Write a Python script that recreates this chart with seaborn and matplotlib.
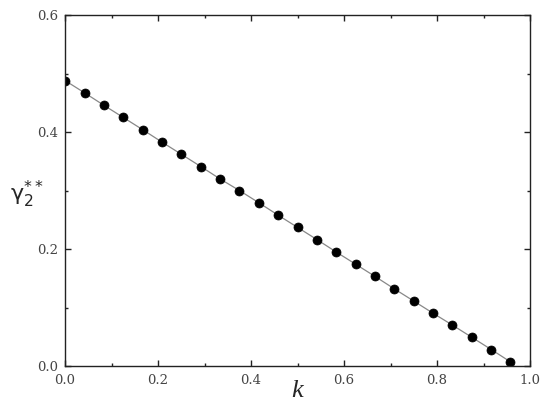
import matplotlib
matplotlib.use("Agg")
import matplotlib.pyplot as plt
import seaborn as sns
import pandas as pd
from matplotlib.ticker import MultipleLocator

k_vals = [0.0, 0.042, 0.083, 0.125, 0.167, 0.208, 0.25, 0.292, 0.333, 0.375,
          0.417, 0.458, 0.5, 0.542, 0.583, 0.625, 0.667, 0.708, 0.75, 0.792,
          0.833, 0.875, 0.917, 0.958]
gamma_vals = [0.488, 0.467, 0.446, 0.425, 0.404, 0.383, 0.362, 0.341, 0.320, 0.300,
              0.279, 0.258, 0.237, 0.216, 0.195, 0.174, 0.153, 0.132, 0.111, 0.090,
              0.070, 0.049, 0.028, 0.007]
x_ticks = [0.0, 0.2, 0.4, 0.6, 0.8, 1.0]
y_ticks = [0.0, 0.2, 0.4, 0.6]

sns.set_theme(style="ticks")
plt.rcParams['font.family'] = ['DejaVu Serif']
plt.rcParams['mathtext.fontset'] = 'dejavusans'

df = pd.DataFrame({"k": k_vals, "g": gamma_vals})

fig = plt.figure(figsize=(5.5, 4.12), dpi=100)
ax = fig.add_axes([65/550, 1-366/412, (530-65)/550, (366-15)/412])

sns.lineplot(data=df, x="k", y="g", ax=ax, color="#888888", linewidth=0.9,
             marker="o", markersize=6.5, markerfacecolor="black",
             markeredgecolor="black", markeredgewidth=0.5)

ax.set_xlim(0, 1.0)
ax.set_ylim(0, 0.6)
ax.set_xticks(x_ticks)
ax.set_yticks(y_ticks)
ax.set_xticklabels([f"{v:.1f}" for v in x_ticks], family="DejaVu Serif")
ax.set_yticklabels([f"{v:.1f}" for v in y_ticks], family="DejaVu Serif")
ax.xaxis.set_minor_locator(MultipleLocator(0.1))
ax.yaxis.set_minor_locator(MultipleLocator(0.1))
ax.tick_params(which="both", direction="in", top=True, right=True,
               color="#222222", labelcolor="#444444", labelsize=9.5)
ax.tick_params(which="major", length=4, width=1)
ax.tick_params(which="minor", length=2.5, width=1)
ax.tick_params(axis="x", pad=6)
ax.tick_params(axis="y", pad=5)
for s in ax.spines.values():
    s.set_color("#222222")
    s.set_linewidth(1.0)

ax.set_xlabel("k", fontsize=19, family="Liberation Serif", style="italic")
ax.xaxis.set_label_coords(0.5, -0.04)
ax.xaxis.label.set_va("top")
ax.set_ylabel(r"$\mathrm{\gamma}_2^{**}$", fontsize=16, rotation=0)
ax.yaxis.set_label_coords(-0.083, 0.444)

fig.savefig("out.png", dpi=100)
